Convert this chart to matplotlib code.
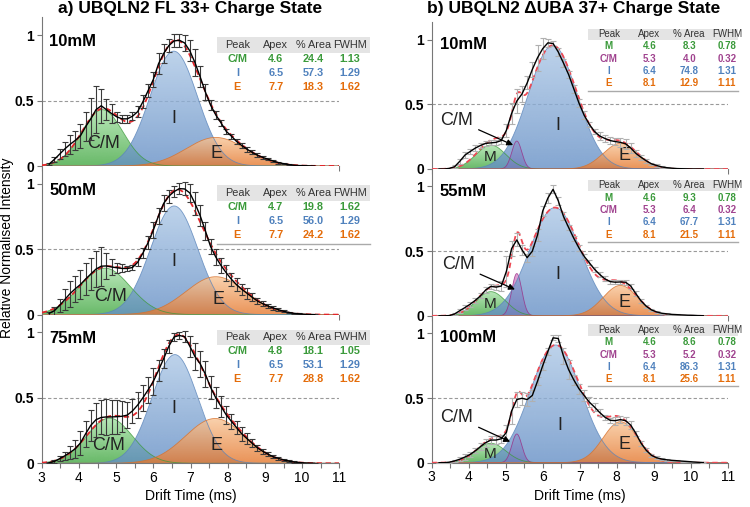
import numpy as np
import matplotlib
matplotlib.use("Agg")
import matplotlib.pyplot as plt
from matplotlib.patches import Rectangle
from matplotlib.colors import to_rgb
from matplotlib.ticker import MultipleLocator

plt.rcParams['font.family'] = ['Liberation Sans', 'DejaVu Sans']

# drift time bins (ms), shared by all panels
drift_time = [3.20, 3.34, 3.48, 3.62, 3.76, 3.90, 4.04, 4.18, 4.32, 4.46,
              4.60, 4.74, 4.88, 5.02, 5.16, 5.30, 5.44, 5.58, 5.72, 5.86,
              6.00, 6.14, 6.28, 6.42, 6.56, 6.70, 6.84, 6.98, 7.12, 7.26,
              7.40, 7.54, 7.68, 7.82, 7.96, 8.10, 8.24, 8.38, 8.52, 8.66,
              8.80, 8.94, 9.08, 9.22, 9.36, 9.50, 9.64, 9.78, 9.92, 10.06,
              10.20, 10.34]

# ---- a) UBQLN2 FL 33+ ----
a_conc = ['10mM', '50mM', '75mM']
a_peaks = ['C/M', 'I', 'E']
# fitted gaussian components as drawn (centre, height, full width at half max)
a_apex = [[4.63, 6.55, 7.68], [4.70, 6.56, 7.68], [4.82, 6.58, 7.66]]
a_height = [[0.43, 0.877, 0.218], [0.355, 0.83, 0.29], [0.345, 0.83, 0.342]]
a_width = [[1.3, 1.5, 1.88], [1.6, 1.5, 1.9], [1.45, 1.45, 1.88]]

a_10mM = [0.015, 0.05, 0.09, 0.13, 0.165, 0.195, 0.23, 0.30, 0.36, 0.43,
          0.46, 0.43, 0.40, 0.375, 0.36, 0.36, 0.38, 0.415, 0.49, 0.575,
          0.66, 0.78, 0.86, 0.92, 0.955, 0.96, 0.94, 0.88, 0.79, 0.68,
          0.565, 0.465, 0.39, 0.33, 0.265, 0.228, 0.187, 0.156, 0.128, 0.104,
          0.082, 0.066, 0.052, 0.038, 0.026, 0.018, 0.011, 0.006, 0.003, 0.002,
          0.001, 0.0]
a_10mM_err = [0.01, 0.02, 0.04, 0.05, 0.07, 0.07, 0.09, 0.11, 0.16, 0.18,
              0.13, 0.08, 0.07, 0.04, 0.03, 0.03, 0.03, 0.04, 0.05, 0.05,
              0.06, 0.08, 0.07, 0.05, 0.05, 0.05, 0.06, 0.08, 0.1, 0.08,
              0.06, 0.04, 0.03, 0.025, 0.02, 0.02, 0.02, 0.02, 0.018, 0.015,
              0.015, 0.012, 0.01, 0.01, 0.008, 0.006, 0.005, 0.004, 0.003, 0.003,
              0.002, 0.002]
a_50mM = [0.01, 0.03, 0.07, 0.115, 0.16, 0.197, 0.23, 0.272, 0.31, 0.348,
          0.37, 0.372, 0.364, 0.358, 0.353, 0.352, 0.36, 0.40, 0.47, 0.55,
          0.645, 0.755, 0.85, 0.905, 0.94, 0.962, 0.96, 0.93, 0.85, 0.755,
          0.64, 0.52, 0.44, 0.375, 0.32, 0.27, 0.228, 0.193, 0.163, 0.132,
          0.104, 0.084, 0.066, 0.051, 0.038, 0.026, 0.017, 0.01, 0.006, 0.003,
          0.001, 0.0]
a_50mM_err = [0.01, 0.03, 0.05, 0.08, 0.1, 0.1, 0.11, 0.12, 0.12, 0.14,
              0.15, 0.1, 0.06, 0.04, 0.03, 0.02, 0.02, 0.03, 0.04, 0.05,
              0.06, 0.06, 0.06, 0.05, 0.04, 0.04, 0.05, 0.07, 0.09, 0.08,
              0.07, 0.06, 0.06, 0.06, 0.06, 0.05, 0.05, 0.04, 0.04, 0.03,
              0.025, 0.02, 0.015, 0.012, 0.01, 0.008, 0.005, 0.005, 0.004, 0.003,
              0.002, 0.002]
a_75mM = [0.004, 0.015, 0.035, 0.057, 0.083, 0.11, 0.155, 0.225, 0.29, 0.333,
          0.35, 0.354, 0.354, 0.356, 0.359, 0.368, 0.40, 0.445, 0.50, 0.56,
          0.625, 0.71, 0.80, 0.895, 0.965, 0.976, 0.967, 0.895, 0.815, 0.76,
          0.68, 0.58, 0.50, 0.435, 0.37, 0.32, 0.272, 0.224, 0.188, 0.152,
          0.118, 0.092, 0.07, 0.05, 0.038, 0.026, 0.017, 0.01, 0.006, 0.003,
          0.001, 0.0]
a_75mM_err = [0.005, 0.01, 0.02, 0.03, 0.05, 0.07, 0.09, 0.1, 0.12, 0.13,
              0.13, 0.14, 0.13, 0.13, 0.12, 0.1, 0.09, 0.1, 0.1, 0.1,
              0.1, 0.08, 0.07, 0.05, 0.03, 0.03, 0.04, 0.08, 0.1, 0.1,
              0.1, 0.09, 0.08, 0.08, 0.07, 0.06, 0.05, 0.05, 0.04, 0.03,
              0.025, 0.02, 0.015, 0.012, 0.01, 0.008, 0.005, 0.005, 0.004, 0.003,
              0.002, 0.002]

a_tab_apex = [['4.6', '6.5', '7.7'], ['4.7', '6.5', '7.7'], ['4.8', '6.5', '7.7']]
a_tab_area = [['24.4', '57.3', '18.3'], ['19.8', '56.0', '24.2'], ['18.1', '53.1', '28.8']]
a_tab_fwhm = [['1.13', '1.29', '1.62'], ['1.62', '1.29', '1.62'], ['1.05', '1.29', '1.62']]

# ---- b) UBQLN2 dUBA 37+ ----
b_conc = ['10mM', '55mM', '100mM']
b_peaks = ['M', 'C/M', 'I', 'E']
b_apex = [[4.6, 5.3, 6.27, 8.1], [4.6, 5.3, 6.33, 8.1], [4.6, 5.3, 6.35, 8.1]]
b_height = [[0.185, 0.216, 0.956, 0.198], [0.187, 0.327, 0.837, 0.235],
            [0.15, 0.222, 0.91, 0.317]]
b_width = [[0.95, 0.32, 1.55, 1.1], [0.95, 0.32, 1.62, 1.1], [0.95, 0.32, 1.62, 1.1]]

b_10mM = [0.0, 0.0, 0.005, 0.018, 0.06, 0.108, 0.135, 0.162, 0.182, 0.198,
          0.202, 0.206, 0.22, 0.30, 0.43, 0.525, 0.58, 0.665, 0.77, 0.86,
          0.93, 0.975, 0.97, 0.905, 0.82, 0.73, 0.62, 0.51, 0.416, 0.345,
          0.29, 0.255, 0.236, 0.22, 0.212, 0.206, 0.195, 0.162, 0.12, 0.09,
          0.063, 0.04, 0.027, 0.016, 0.01, 0.006, 0.003, 0.002, 0.001, 0.0,
          0.0, 0.0]
b_10mM_err = [0, 0, 0.005, 0.01, 0.02, 0.02, 0.02, 0.02, 0.02, 0.02,
              0.02, 0.02, 0.03, 0.05, 0.08, 0.09, 0.06, 0.05, 0.06, 0.1,
              0.08, 0.03, 0.02, 0.03, 0.03, 0.03, 0.03, 0.03, 0.03, 0.02,
              0.02, 0.03, 0.03, 0.03, 0.03, 0.035, 0.04, 0.04, 0.03, 0.02,
              0.015, 0.01, 0.01, 0.005, 0.005, 0.003, 0.002, 0.002, 0.001, 0,
              0, 0]
b_55mM = [0.0, 0.0, 0.002, 0.015, 0.04, 0.064, 0.09, 0.12, 0.155, 0.2,
          0.228, 0.222, 0.23, 0.345, 0.52, 0.587, 0.51, 0.45, 0.50, 0.625,
          0.81, 0.91, 0.978, 0.89, 0.77, 0.683, 0.6, 0.525, 0.46, 0.41,
          0.36, 0.32, 0.286, 0.265, 0.26, 0.262, 0.26, 0.23, 0.17, 0.115,
          0.074, 0.046, 0.03, 0.02, 0.015, 0.011, 0.009, 0.007, 0.005, 0.004,
          0.002, 0.001]
b_55mM_err = [0, 0, 0.005, 0.01, 0.015, 0.02, 0.02, 0.02, 0.02, 0.02,
              0.02, 0.02, 0.04, 0.12, 0.06, 0.05, 0.04, 0.03, 0.04, 0.05,
              0.04, 0.04, 0.03, 0.03, 0.03, 0.02, 0.02, 0.02, 0.02, 0.02,
              0.02, 0.02, 0.02, 0.015, 0.015, 0.015, 0.02, 0.02, 0.02, 0.015,
              0.01, 0.01, 0.005, 0.005, 0.005, 0.004, 0.003, 0.003, 0.002, 0.002,
              0.001, 0.001]
b_100mM = [0.0, 0.0, 0.004, 0.014, 0.027, 0.044, 0.064, 0.092, 0.125, 0.155,
           0.175, 0.175, 0.185, 0.235, 0.40, 0.488, 0.498, 0.488, 0.52, 0.63,
           0.75, 0.86, 0.965, 0.96, 0.825, 0.72, 0.64, 0.572, 0.52, 0.468,
           0.43, 0.388, 0.352, 0.328, 0.325, 0.333, 0.325, 0.29, 0.225, 0.15,
           0.095, 0.057, 0.038, 0.028, 0.022, 0.018, 0.015, 0.012, 0.009, 0.006,
           0.003, 0.001]
b_100mM_err = [0, 0, 0.005, 0.01, 0.015, 0.02, 0.02, 0.02, 0.03, 0.03,
               0.03, 0.03, 0.03, 0.06, 0.1, 0.06, 0.05, 0.05, 0.04, 0.03,
               0.03, 0.03, 0.02, 0.03, 0.06, 0.07, 0.04, 0.04, 0.04, 0.04,
               0.03, 0.03, 0.02, 0.02, 0.03, 0.03, 0.03, 0.03, 0.02, 0.02,
               0.015, 0.01, 0.01, 0.005, 0.005, 0.004, 0.003, 0.003, 0.002, 0.002,
               0.001, 0.001]

b_tab_apex = [['4.6', '5.3', '6.4', '8.1']] * 3
b_tab_area = [['8.3', '4.0', '74.8', '12.9'], ['9.3', '6.4', '67.7', '21.5'],
              ['8.6', '5.2', '86.3', '25.6']]
b_tab_fwhm = [['0.78', '0.32', '1.31', '1.11']] * 3

a_data = [a_10mM, a_50mM, a_75mM]
a_err = [a_10mM_err, a_50mM_err, a_75mM_err]
b_data = [b_10mM, b_55mM, b_100mM]
b_err = [b_10mM_err, b_55mM_err, b_100mM_err]

# styles
fill_cols = {'C/M_a': ('#a8e2a8', '#43a843', '#3c9a3c'),
             'M': ('#a8e2a8', '#43a843', '#3c9a3c'),
             'I': ('#adc8e6', '#6690c6', '#5a84ba'),
             'E': ('#f8c698', '#e5782e', '#d8702a'),
             'C/M_b': ('#dc90cf', '#a8338f', '#9a2c84')}
text_cols = {'C/M_a': '#3a9a3a', 'M': '#3a9a3a', 'I': '#4f81bd',
             'E': '#e46c0a', 'C/M_b': '#a0438f'}

xs = np.linspace(3, 11, 600)


def gauss(x, c, h, w):
    return h * np.exp(-4 * np.log(2) * (x - c) ** 2 / w ** 2)


def gradient_fill(ax, x, y, top, bottom, edge, alpha=0.8):
    poly = ax.fill_between(x, 0, y, facecolor='none', edgecolor='none')
    g = np.linspace(0, 1, 128)[:, None]
    rgb = np.array(to_rgb(top)) * (1 - g) + np.array(to_rgb(bottom)) * g
    rgba = np.concatenate([rgb, np.full((128, 1), alpha)], axis=1)[:, None, :]
    im = ax.imshow(rgba, extent=[x[0], x[-1], 0, max(y)], origin='upper',
                   aspect='auto', zorder=1, interpolation='bilinear')
    im.set_clip_path(poly.get_paths()[0], transform=ax.transData)
    ax.plot(x, y, color=edge, lw=0.6, alpha=0.8, zorder=1.1)


def style_axis(ax, bottom_row):
    ax.set_xlim(3, 11)
    ax.set_ylim(0, 1.135)
    for s in ['top', 'right']:
        ax.spines[s].set_visible(False)
    for s in ['left', 'bottom']:
        ax.spines[s].set_color('#777777')
        ax.spines[s].set_linewidth(0.8)
    ax.set_xticks(range(3, 12))
    ax.xaxis.set_minor_locator(MultipleLocator(0.5))
    ax.set_yticks([0, 0.5, 1])
    ax.set_yticklabels(['0', '0.5', '1'], fontweight='bold', fontsize=10)
    ax.tick_params(which='both', direction='out', length=3.5, width=0.8,
                   color='#777777', labelsize=10, pad=2)
    ax.tick_params(axis='x', labelbottom=bottom_row)
    ax.axhline(0.5, color='#999999', lw=0.8, ls=(0, (3, 2)), zorder=0.5)


def draw_table(ax, names, keys, apex, area, fwhm, cols_x, bg_x, head_y, dy,
               bg_h, fs, line_y=None):
    ax.add_patch(Rectangle((bg_x[0], head_y - bg_h / 2), bg_x[1] - bg_x[0], bg_h,
                           facecolor='#e4e4e4', edgecolor='none',
                           clip_on=False, zorder=5))
    for x, s in zip(cols_x, ['Peak', 'Apex', '% Area', 'FWHM']):
        ax.text(x, head_y, s, ha='center', va='center', fontsize=fs,
                color='#333333', clip_on=False, zorder=6)
    for i, name in enumerate(names):
        y = head_y - dy * (i + 1)
        for x, s in zip(cols_x, [name, apex[i], area[i], fwhm[i]]):
            ax.text(x, y, s, ha='center', va='center', fontsize=fs,
                    fontweight='bold', color=text_cols[keys[i]],
                    clip_on=False, zorder=6)
    if line_y is not None:
        ax.plot(bg_x, [line_y, line_y], color='#aaaaaa', lw=1.0,
                clip_on=False, zorder=5)


fig = plt.figure(figsize=(7.5, 5.07), dpi=100)
W, H = 750.0, 507.0

a_label_pos = [[(4.66, 0.174), (6.54, 0.366), (7.7, 0.097)],
               [(4.84, 0.142), (6.54, 0.408), (7.75, 0.117)],
               [(4.79, 0.139), (6.54, 0.418), (7.7, 0.139)]]
a_head_y = [0.925, 0.93, 0.962]
a_line_y = [None, 0.543, None]

for i in range(3):
    y0 = 166 + 148.65 * i
    ax = fig.add_axes([41.7 / W, 1 - y0 / H, 297.6 / W, 148.65 / H])
    style_axis(ax, i == 2)
    keys = ['C/M_a', 'I', 'E']
    total = np.zeros_like(xs)
    for k, key in enumerate(keys):
        g = gauss(xs, a_apex[i][k], a_height[i][k], a_width[i][k])
        total += g
        top, bot, edge = fill_cols[key]
        gradient_fill(ax, xs, g, top, bot, edge)
        lx, ly = a_label_pos[i][k]
        ax.text(lx, ly, a_peaks[k], ha='center', va='center', fontsize=13,
                color='#222222', zorder=3)
    ax.plot(xs, total, color='#e3262b', lw=1.3, ls=(0, (3, 2)), zorder=3)
    ax.errorbar(drift_time, a_data[i], yerr=a_err[i], fmt='none',
                ecolor='#3a3a3a', elinewidth=0.8, capsize=2, capthick=0.8,
                zorder=4)
    ax.plot(drift_time, a_data[i], color='k', lw=1.0, zorder=4.5)
    ax.text(3.2, 0.915, a_conc[i], fontsize=12, fontweight='bold',
            va='baseline', ha='left', zorder=6)
    draw_table(ax, a_peaks, keys, a_tab_apex[i], a_tab_area[i], a_tab_fwhm[i],
               [8.26, 9.29, 10.30, 11.29], [7.70, 11.83], a_head_y[i], 0.107,
               0.118, 7.8, a_line_y[i])
    if i == 2:
        ax.set_xlabel('Drift Time (ms)', fontsize=10, labelpad=3)

b_label_pos = [[(4.58, 0.095), None, (6.42, 0.34), (8.22, 0.108)],
               [(4.58, 0.09), None, (6.42, 0.32), (8.22, 0.10)],
               [(4.58, 0.067), None, (6.47, 0.29), (8.22, 0.137)]]
b_cm_text = [(3.68, 0.378), (3.72, 0.396), (3.68, 0.351)]
b_cm_head = [(5.2, 0.185), (5.25, 0.204), (5.12, 0.162)]
b_head_y = [1.042, 1.008, 1.026]

for i in range(3):
    y0 = 169 + 146.85 * i
    ax = fig.add_axes([431.7 / W, 1 - y0 / H, 296.0 / W, 146.85 / H])
    style_axis(ax, i == 2)
    keys = ['M', 'C/M_b', 'I', 'E']
    total = np.zeros_like(xs)
    for k, key in enumerate(keys):
        g = gauss(xs, b_apex[i][k], b_height[i][k], b_width[i][k])
        total += g
        top, bot, edge = fill_cols[key]
        gradient_fill(ax, xs, g, top, bot, edge)
        if b_label_pos[i][k] is not None:
            lx, ly = b_label_pos[i][k]
            ax.text(lx, ly, b_peaks[k], ha='center', va='center',
                    fontsize=11 if key == 'M' else 13, color='#222222', zorder=3)
    ax.plot(xs, total, color='#ee4a55', lw=1.3, ls=(0, (3, 2)), zorder=3)
    ax.errorbar(drift_time, b_data[i], yerr=b_err[i], fmt='none',
                ecolor='#b0b0b0', elinewidth=0.8, capsize=2, capthick=0.8,
                zorder=4)
    ax.plot(drift_time, b_data[i], color='k', lw=1.0, zorder=4.5)
    ax.annotate('C/M', xy=b_cm_head[i], xytext=b_cm_text[i], ha='center',
                va='center', fontsize=13, color='#222222', zorder=6,
                arrowprops=dict(arrowstyle='-|>', color='k', lw=0.9,
                                mutation_scale=9, shrinkA=2, shrinkB=0))
    ax.text(3.22, 0.93, b_conc[i], fontsize=12, fontweight='bold',
            va='baseline', ha='left', zorder=6)
    draw_table(ax, b_peaks, keys, b_tab_apex[i], b_tab_area[i], b_tab_fwhm[i],
               [7.79, 8.88, 9.96, 10.98], [7.22, 11.28], b_head_y[i], 0.095,
               0.087, 7.0, b_head_y[i] - 0.095 * 4.6)
    if i == 2:
        ax.set_xlabel('Drift Time (ms)', fontsize=10, labelpad=3)

fig.text(190.5 / W, 1 - 9 / H, 'a) UBQLN2 FL 33+ Charge State', ha='center',
         va='center', fontsize=12.5, fontweight='bold')
fig.text(574 / W, 1 - 9 / H, 'b) UBQLN2 \u0394UBA 37+ Charge State', ha='center',
         va='center', fontsize=12.5, fontweight='bold')
fig.text(7.5 / W, 1 - 248 / H, 'Relative Normalised Intensity', rotation=90,
         ha='center', va='center', fontsize=10)

fig.savefig('out.png', dpi=100)
